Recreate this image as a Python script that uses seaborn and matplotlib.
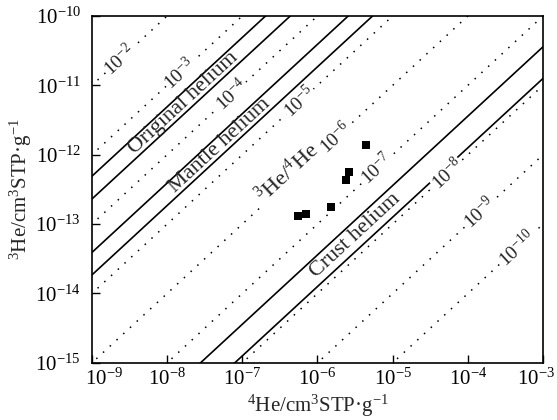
import numpy as np
import pandas as pd
import matplotlib
matplotlib.use('Agg')
import matplotlib.pyplot as plt
import matplotlib.transforms as mtransforms
import seaborn as sns

# ratio lines 3He/4He (dotted)
ratios = [1e-2, 1e-3, 1e-4, 1e-5, 1e-6, 1e-7, 1e-8, 1e-9, 1e-10]
ratio_labels = ['10$^{-2}$', '10$^{-3}$', '10$^{-4}$', '10$^{-5}$', '10$^{-6}$',
                '10$^{-7}$', '10$^{-8}$', '10$^{-9}$', '10$^{-10}$']
ratio_label_x = [2.35e-9, 1.48e-8, 7.3e-8, 5.8e-7, 1.76e-6, 6.2e-6, 5.3e-5, 1.45e-4, 4.5e-4]

# helium source bands (solid boundaries)
bands = ['Original helium', 'Mantle helium', 'Crust helium']
band_upper = [4.9e-4, 3.9e-5, 3.6e-8]
band_lower = [2.3e-4, 1.85e-5, 1.26e-8]
band_label_x = [1.67e-8, 5.0e-8, 3.2e-6]

# samples
he4 = [4.4e-6, 2.64e-6, 2.39e-6, 1.49e-6, 7.0e-7, 5.5e-7]
he3 = [1.38e-12, 5.66e-13, 4.3e-13, 1.74e-13, 1.42e-13, 1.31e-13]

xlim = (1e-9, 1e-3)
ylim = (1e-15, 1e-10)
x_ends = np.array([1e-10, 1e-2])

sns.set_style('ticks')
plt.rcParams['font.family'] = ['Liberation Serif', 'DejaVu Serif']
plt.rcParams['mathtext.fontset'] = 'custom'
plt.rcParams['mathtext.rm'] = 'Liberation Serif'
plt.rcParams['mathtext.it'] = 'Liberation Serif:italic'
plt.rcParams['axes.unicode_minus'] = True

dotted = pd.DataFrame({
    'x': np.tile(x_ends, len(ratios)),
    'y': np.concatenate([r * x_ends for r in ratios]),
    'ratio': np.repeat(ratios, 2),
})
solid_r = band_upper + band_lower
solid = pd.DataFrame({
    'x': np.tile(x_ends, len(solid_r)),
    'y': np.concatenate([r * x_ends for r in solid_r]),
    'ratio': np.repeat(solid_r, 2),
})
pts = pd.DataFrame({'he4': he4, 'he3': he3})

fig = plt.figure(figsize=(5.57, 4.2), dpi=100)
ax = fig.add_axes([0.165, 0.136, 0.81, 0.826])

sns.lineplot(data=dotted, x='x', y='y', units='ratio', estimator=None,
             color='black', lw=1.1, linestyle=(0, (1, 5)), ax=ax)
sns.lineplot(data=solid, x='x', y='y', units='ratio', estimator=None,
             color='black', lw=1.2, ax=ax)
sns.scatterplot(data=pts, x='he4', y='he3', marker='s', s=40, color='black',
                edgecolor='black', linewidth=0, ax=ax, zorder=5)

ax.set_xscale('log')
ax.set_yscale('log')
ax.set_xlim(*xlim)
ax.set_ylim(*ylim)
ax.xaxis.set_major_locator(matplotlib.ticker.LogLocator(base=10, numticks=10))
ax.yaxis.set_major_locator(matplotlib.ticker.LogLocator(base=10, numticks=10))
ax.xaxis.set_minor_locator(matplotlib.ticker.NullLocator())
ax.yaxis.set_minor_locator(matplotlib.ticker.NullLocator())
ax.tick_params(direction='in', length=6, width=1, labelsize=15, colors='black')
ax.tick_params(axis='y', pad=8)
ax.tick_params(axis='x', pad=4)
for s in ax.spines.values():
    s.set_linewidth(1.2)
    s.set_color('black')

ax.set_xlabel('$^{4}$He/cm$^{3}$STP·g$^{-1}$', fontsize=15, labelpad=2)
ax.set_ylabel('$^{3}$He/cm$^{3}$STP·g$^{-1}$', fontsize=15, labelpad=1)

angle = 42.7
for r, lab, lx in zip(ratios, ratio_labels, ratio_label_x):
    ax.text(lx, r * lx, lab, rotation=angle, rotation_mode='anchor',
            ha='center', va='center', fontsize=14,
            bbox=dict(facecolor='white', edgecolor='none', pad=0.5))

for name, up, lo, lx in zip(bands, band_upper, band_lower, band_label_x):
    ax.text(lx, np.sqrt(up * lo) * lx, name, rotation=angle, rotation_mode='anchor',
            ha='center', va='center', fontsize=16)

ax.text(4.0e-7, 1e-6 * 4.0e-7 * 1.35, '$^{3}$He/$^{4}$He', rotation=angle,
        rotation_mode='anchor', ha='center', va='center', fontsize=16,
        bbox=dict(facecolor='white', edgecolor='none', pad=0.5))

# keep the end tick labels inside the figure, like the reference
fig.canvas.draw()
for tick in ax.xaxis.get_major_ticks():
    loc = tick.get_loc()
    if np.isclose(np.log10(loc), np.log10(xlim[0])):
        dx = 9
    elif np.isclose(np.log10(loc), np.log10(xlim[1])):
        dx = -5
    else:
        continue
    lab = tick.label1
    lab.set_transform(lab.get_transform() +
                      mtransforms.ScaledTranslation(dx / 72, 0, fig.dpi_scale_trans))

fig.savefig('out.png', dpi=100)
